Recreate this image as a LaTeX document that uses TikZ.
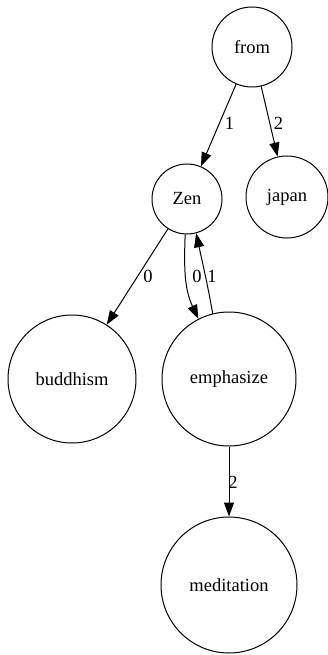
\documentclass[tikz,border=0pt]{standalone}
\usepackage{fontspec}
\setmainfont{Liberation Serif}
\usetikzlibrary{arrows.meta}
\begin{document}
\begin{tikzpicture}[x=1pt,y=-1pt,
  vtx/.style={draw,circle,line width=1pt,inner sep=0pt,font=\fontsize{18.5}{20}\selectfont},
  edge/.style={draw,line width=1pt,-{Triangle[length=14pt,width=10pt]}},
  lbl/.style={font=\fontsize{18.5}{20}\selectfont,inner sep=0pt}]
\useasboundingbox (0,0) rectangle (328,655);
\node[vtx,minimum size=80pt] (from) at (252,47) {from};
\node[vtx,minimum size=70pt] (zen) at (187,199) {Zen};
\node[vtx,minimum size=82pt] (japan) at (287,197) {japan};
\node[vtx,minimum size=128pt] (buddhism) at (72,379) {buddhism};
\node[vtx,minimum size=134pt] (emphasize) at (229,379) {emphasize};
\node[vtx,minimum size=136pt] (meditation) at (229,585) {meditation};
\draw[edge] (from) -- (zen);
\draw[edge] (from) -- (japan);
\draw[edge] (zen) -- (buddhism);
\draw[edge] (zen.-93) to[out=-92,in=115] (emphasize.117);
\draw[edge] (emphasize.104) to[out=100,in=-78] (zen.-75);
\draw[edge] (emphasize) -- (meditation);
\node[lbl] (l1) at (229.5,123) {1};
\node[lbl] (l2) at (278.5,123) {2};
\node[lbl] (l3) at (148,276) {0};
\node[lbl] (l4) at (197,276) {0};
\node[lbl] (l5) at (212,276) {1};
\node[lbl] (l6) at (233,482) {2};
\end{tikzpicture}
\end{document}
